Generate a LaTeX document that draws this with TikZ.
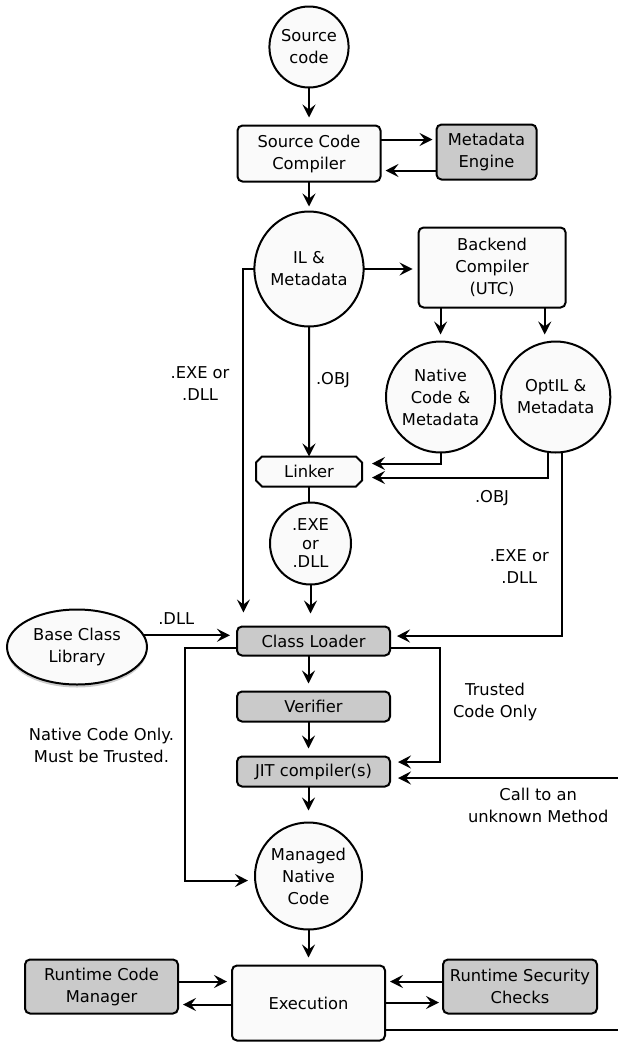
\documentclass[tikz,border=0pt]{standalone}
\usepackage{fontspec}
\setmainfont{DejaVu Sans}
\usepackage{tikz}
\usetikzlibrary{arrows.meta,positioning,shapes.geometric,shapes.misc,shadows}
\definecolor{boxw}{RGB}{250,250,250}
\definecolor{boxg}{RGB}{202,202,202}

\begin{document}
\begin{tikzpicture}[
  font=\fontsize{16.3pt}{22pt}\selectfont,
  line width=2pt,
  box/.style={draw, rounded corners=5pt, fill=boxw, align=center, inner sep=0pt, outer sep=0pt},
  gbox/.style={box, fill=boxg},
  blob/.style={draw, ellipse, fill=boxw, align=center, inner sep=0pt, outer sep=0pt},
  ar/.style={-{Stealth[length=13pt,width=13pt,inset=5pt]}, shorten >=8pt},
  lbl/.style={align=center, inner sep=0pt}]
\useasboundingbox (0,0) rectangle (618pt,-1042pt);
\coordinate (rim) at (618pt,0);

% --- front end: source, compiler, metadata
\node[blob, minimum width=78pt, minimum height=81pt] (src) at (309pt,-47pt) {Source\\code};
\node[box, below=38pt of src, minimum width=143pt, minimum height=56pt] (scc) {Source Code\\Compiler};
\node[gbox, right=56pt of scc, yshift=1.5pt, minimum width=100pt, minimum height=55pt] (meta) {Metadata\\Engine};
\node[blob, below=30pt of scc, minimum width=108pt, minimum height=115pt] (il) {IL \&\\Metadata};
\node[box, right=55pt of il, yshift=1.5pt, minimum width=147pt, minimum height=80pt] (be) {Backend\\Compiler\\(UTC)};
\node[blob, below=34pt of be, xshift=-51.5pt, minimum width=108pt, minimum height=111pt] (nat) {Native\\Code \&\\Metadata};
\node[blob, right=6pt of nat, minimum width=108pt, minimum height=111pt] (opt) {OptIL \&\\Metadata};

% --- linking
\node[draw, fill=boxw, chamfered rectangle, chamfered rectangle xsep=3pt, chamfered rectangle ysep=3pt,
      below=130pt of il, minimum width=106pt, minimum height=30pt, inner sep=0pt, outer sep=0pt] (lnk) {Linker};
\node[blob, below=16pt of lnk, xshift=1.5pt, minimum width=81pt, minimum height=82pt,
      font=\fontsize{16.3pt}{18.5pt}\selectfont] (exe) {.EXE\\or\\.DLL};

% --- loading and jitting
\node[gbox, below=42pt of exe, xshift=3pt, minimum width=153pt, minimum height=29pt] (cl) {Class Loader};
\node[blob, left=90pt of cl, yshift=-6pt, minimum width=140pt, minimum height=75pt,
      drop shadow={shadow xshift=0pt, shadow yshift=-3pt, opacity=0.4}] (bcl) {Base Class\\Library};
\node[gbox, below=36pt of cl, minimum width=153pt, minimum height=30pt] (ver) {Verifier};
\node[gbox, below=35pt of ver, minimum width=153pt, minimum height=30pt] (jit) {JIT compiler(s)};
\node[blob, below=36pt of jit, xshift=-5pt, minimum width=107pt, minimum height=107pt] (mnc) {Managed\\Native\\Code};

% --- run time
\node[box, below=36pt of mnc, minimum width=153pt, minimum height=75pt] (exec) {Execution};
\node[gbox, left=54pt of exec, yshift=16.5pt, minimum width=153pt, minimum height=54pt] (rcm) {Runtime Code\\Manager};
\node[gbox, right=58pt of exec, yshift=16.5pt, minimum width=154pt, minimum height=54pt] (rsc) {Runtime Security\\Checks};

\draw[ar] (src) -- (scc);
\draw[ar, shorten >=4pt] ([yshift=14pt]scc.east) -- ([yshift=14pt]scc.east -| meta.west);
\draw[ar, shorten >=5pt] ([yshift=-17pt]scc.east -| meta.west) -- ([yshift=-17pt]scc.east);
\draw[ar, shorten >=5pt] (scc) -- (il);
\draw[ar, shorten >=6pt] (il.east) -- (il.east -| be.west);
\draw[ar, shorten >=7pt] (nat.north |- be.south) -- (nat.north);
\draw[ar, shorten >=7pt] ([xshift=-11pt]opt.north |- be.south) -- ([xshift=-11pt]opt.north);
\draw[ar, shorten >=14pt] (il.west) -- ++(-11pt,0) coordinate (bypass)
  -- node[lbl, left=13pt, pos=0.32] {.EXE or\\.DLL} (bypass |- cl.north);
\draw[ar, shorten >=0pt] (il) -- node[lbl, right=6pt, pos=0.41] {.OBJ} (lnk);
\draw[ar, shorten >=10pt] (nat.south) |- ([yshift=8pt]lnk.east);
\draw[ar, shorten >=10pt] ([xshift=-8pt]opt.south) |- node[lbl, below=12pt, pos=0.65] {.OBJ} ([yshift=-6pt]lnk.east);
\draw[ar, shorten >=7pt] ([xshift=6pt]opt.south) |- node[lbl, left=12pt, pos=0.31] {.EXE or\\.DLL} ([yshift=5pt]cl.east);
\draw (lnk.south) -- (lnk.south |- exe.north);
\draw[ar, shorten >=13pt] (exe.south) -- (exe.south |- cl.north);
\draw[ar, shorten >=7pt] (bcl.10) -- node[lbl, above=10pt, pos=0.35] {.DLL} (bcl.10 -| cl.west);
\draw[ar, shorten >=7pt] ([yshift=-6.5pt]cl.west) -- ++(-52pt,0)
  |- node[lbl, left=10pt, pos=0.21] {Native Code Only.\\Must be Trusted.} ([yshift=-4.5pt]mnc.west);
\draw[ar] ([yshift=-6.5pt]cl.east) -- ++(50pt,0)
  |- node[lbl, right=12pt, pos=0.24] {Trusted\\Code Only} ([yshift=9.5pt]jit.east);
\draw[ar] ([yshift=-6.5pt]jit.east -| rim) -- node[lbl, below=9pt, pos=0.35] {Call to an\\unknown Method} ([yshift=-6.5pt]jit.east);
\draw[ar] (cl.south -| mnc.north) -- (ver.north -| mnc.north);
\draw[ar] (ver.south -| mnc.north) -- (jit.north -| mnc.north);
\draw[ar, shorten >=12pt] (jit.south -| mnc.north) -- (mnc.north);
\draw[ar] (mnc) -- (exec);
\draw[ar, shorten >=5pt] ([yshift=5pt]rcm.east) -- ([yshift=5pt]rcm.east -| exec.west);
\draw[ar, shorten >=5pt] ([yshift=-18pt]rcm.east -| exec.west) -- ([yshift=-18pt]rcm.east);
\draw[ar, shorten >=5pt] ([yshift=5pt]rsc.west) -- ([yshift=5pt]rsc.west -| exec.east);
\draw[ar, shorten >=4pt] ([yshift=-16pt]rsc.west -| exec.east) -- ([yshift=-16pt]rsc.west);
\draw ([yshift=-27pt]exec.east) -- ([yshift=-27pt]exec.east -| rim);
\end{tikzpicture}
\end{document}
